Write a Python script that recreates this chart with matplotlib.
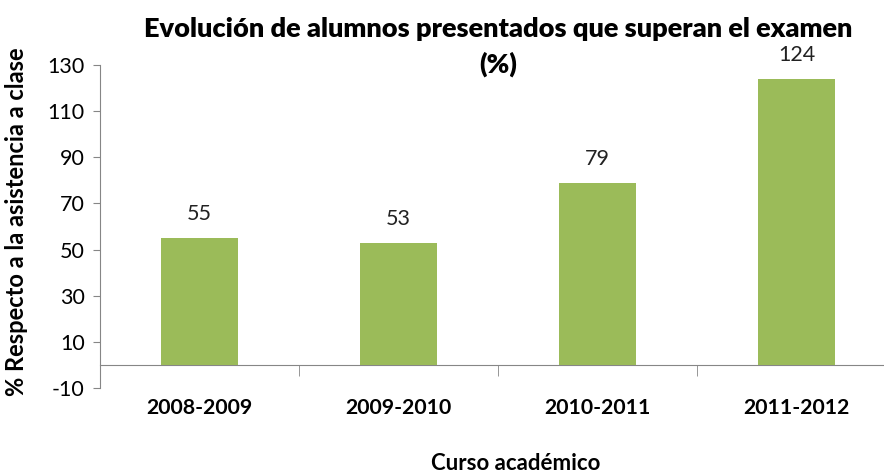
import matplotlib.pyplot as plt
import numpy as np

cursos = ["2008-2009", "2009-2010", "2010-2011", "2011-2012"]
superan = [55, 53, 79, 124]
y_ticks = [-10, 10, 30, 50, 70, 90, 110, 130]

plt.rcParams["font.family"] = ["Lato", "DejaVu Sans"]
plt.rcParams["axes.unicode_minus"] = False

W, H = 884, 473
fig = plt.figure(figsize=(W / 100, H / 100), dpi=100)
# plot area in pixels: left 100, right 896 (runs past the edge), top 65, bottom 388
ax = fig.add_axes([100 / W, 1 - 388 / H, 796 / W, 323 / H])

x = np.arange(len(cursos))
ax.bar(x, superan, width=0.39, color="#9BBB59", zorder=3)
for xi, v in zip(x, superan):
    ax.text(xi, v + 6, f"{v}", ha="center", va="bottom", fontsize=15.5, color="#222222")

ax.set_xlim(-0.5, len(cursos) - 0.5)
ax.set_ylim(-10, 130)
ax.set_yticks(y_ticks)
ax.tick_params(axis="y", labelsize=15.5, length=5, color="#868686", pad=6)

ax.spines["top"].set_visible(False)
ax.spines["right"].set_visible(False)
ax.spines["left"].set_color("#868686")
ax.spines["bottom"].set_color("#868686")
ax.spines["bottom"].set_position(("data", 0))

ax.set_xticks(x)
ax.set_xticklabels(cursos, fontsize=15.3, fontweight="bold")
ax.tick_params(axis="x", which="major", length=0, pad=24)
ax.set_xticks(x[:-1] + 0.5, minor=True)
ax.tick_params(axis="x", which="minor", length=8, color="#868686")

fig.text(498 / W, 1 - 29 / H, "Evolución de alumnos presentados que superan el examen",
         ha="center", va="center", fontsize=19.5, fontweight="heavy")
fig.text(498 / W, 1 - 64 / H, "(%)", ha="center", va="center", fontsize=19.5, fontweight="heavy")
fig.text(516 / W, 1 - 463 / H, "Curso académico", ha="center", va="center",
         fontsize=16, fontweight="bold")
fig.text(17 / W, 1 - 222 / H, "% Respecto a la asistencia a clase", ha="center", va="center",
         rotation=90, fontsize=17, fontweight="bold")

fig.savefig("out.png", dpi=100)
